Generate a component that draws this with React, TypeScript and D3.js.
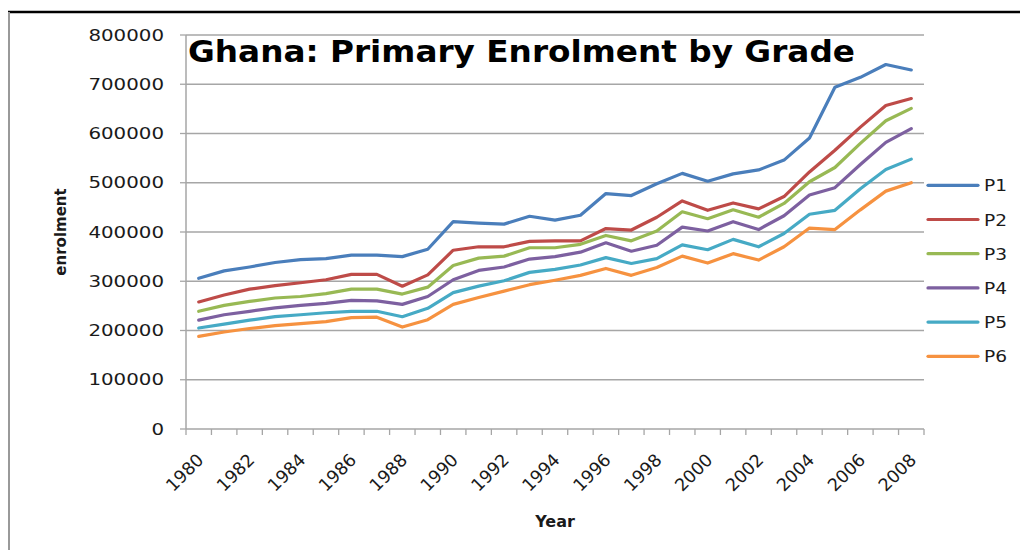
import React from "react";
import * as d3 from "d3";

const years: number[] = [1980,1981,1982,1983,1984,1985,1986,1987,1988,1989,1990,1991,1992,1993,1994,1995,1996,1997,1998,1999,2000,2001,2002,2003,2004,2005,2006,2007,2008];
const yearLabels: number[] = [1980,1982,1984,1986,1988,1990,1992,1994,1996,1998,2000,2002,2004,2006,2008];
const yTicks: number[] = [0,100000,200000,300000,400000,500000,600000,700000,800000];

const P1: number[] = [306000,321000,329000,338000,344000,346000,353000,353000,350000,365000,421000,418000,416000,432000,424000,434000,478000,474000,498000,519000,503000,518000,526000,546000,591000,694000,714000,740000,729000];
const P2: number[] = [258000,272000,284000,291000,297000,303000,314000,314000,290000,313000,363000,370000,370000,381000,382000,382000,407000,404000,430000,463000,444000,459000,447000,472000,522000,566000,613000,657000,671000];
const P3: number[] = [239000,251000,259000,266000,269000,275000,284000,284000,274000,288000,332000,347000,351000,368000,368000,375000,393000,382000,402000,441000,427000,445000,430000,458000,502000,531000,580000,626000,651000];
const P4: number[] = [221000,232000,239000,246000,251000,255000,261000,260000,253000,269000,303000,322000,329000,345000,350000,359000,378000,361000,373000,410000,402000,421000,405000,433000,475000,490000,537000,582000,610000];
const P5: number[] = [205000,213000,221000,228000,232000,236000,239000,239000,228000,245000,277000,290000,301000,318000,324000,333000,348000,336000,346000,374000,364000,385000,370000,397000,436000,444000,488000,527000,548000];
const P6: number[] = [188000,197000,204000,210000,214000,218000,226000,227000,207000,222000,253000,267000,280000,293000,302000,312000,326000,312000,328000,351000,337000,356000,343000,370000,408000,405000,445000,483000,500000];

const seriesNames: string[] = ["P1","P2","P3","P4","P5","P6"];
const seriesValues: number[][] = [P1,P2,P3,P4,P5,P6];
const seriesColors: string[] = ["#4a7ebb","#be4b48","#98b954","#7d60a0","#46aac5","#f69240"];

const title = "Ghana: Primary Enrolment by Grade";
const xTitle = "Year";
const yTitle = "enrolment";

export default function App() {
  const W = 1020, H = 550;
  const left = 186, right = 924, top = 35, bottom = 429;
  const x = d3.scaleBand<number>().domain(years).range([left, right]).padding(0);
  const bw = x.bandwidth();
  const cx = (yr: number) => (x(yr) as number) + bw / 2;
  const y = d3.scaleLinear().domain([0, 800000]).range([bottom, top]);
  const line = d3.line<number>().x((_, i) => cx(years[i])).y((v) => y(v));
  const font = "'DejaVu Sans', Verdana, sans-serif";
  const boundaries = d3.range(years.length + 1).map((i) => left + i * bw);

  return (
    <div style={{ position: "absolute", left: 0, top: 0 }}>
      <svg width={W} height={H} style={{ display: "block", background: "#fff" }} fontFamily={font}>
        <rect x={0} y={0} width={W} height={H} fill="#fff" />
        {/* frame */}
        <line x1={8} x2={W} y1={12} y2={12} stroke="#000" strokeWidth={2.5} />
        <line x1={9} x2={9} y1={12} y2={H} stroke="#999" strokeWidth={2} />
        {/* gridlines */}
        {yTicks.map((t) => (
          <g key={t}>
            {t > 0 && (
              <line x1={left} x2={right} y1={y(t)} y2={y(t)} stroke="#a6a6a6" strokeWidth={1.3} />
            )}
            <line x1={left - 6} x2={left} y1={y(t)} y2={y(t)} stroke="#a6a6a6" strokeWidth={1.3} />
            <text
              x={164}
              y={y(t) + 5.5}
              textAnchor="end"
              fontSize={15.5}
              fill="#1a1a1a"
              textLength={12.6 * String(t).length}
              lengthAdjust="spacingAndGlyphs"
            >
              {t}
            </text>
          </g>
        ))}
        {/* axes */}
        <line x1={left} x2={left} y1={top} y2={bottom} stroke="#a6a6a6" strokeWidth={1.5} />
        <line x1={left} x2={right} y1={bottom} y2={bottom} stroke="#a6a6a6" strokeWidth={1.5} />
        {boundaries.map((b, i) => (
          <line key={i} x1={b} x2={b} y1={bottom} y2={bottom + 6} stroke="#a6a6a6" strokeWidth={1.3} />
        ))}
        {yearLabels.map((yr) => (
          <text
            key={yr}
            transform={`translate(${cx(yr) + 6},${bottom + 32}) rotate(-45)`}
            textAnchor="end"
            fontSize={17.5}
            fill="#1a1a1a"
          >
            {yr}
          </text>
        ))}
        {/* series */}
        {seriesValues.map((vals, si) => (
          <path
            key={seriesNames[si]}
            d={line(vals) as string}
            fill="none"
            stroke={seriesColors[si]}
            strokeWidth={3.2}
            strokeLinejoin="round"
            strokeLinecap="round"
          />
        ))}
        {/* title */}
        <text x={188} y={62} fontSize={30} fontWeight="bold" fill="#000" textLength={667} lengthAdjust="spacingAndGlyphs">
          {title}
        </text>
        {/* axis titles */}
        <text x={555} y={527} textAnchor="middle" fontSize={16} fontWeight="bold" fill="#1a1a1a">
          {xTitle}
        </text>
        <text transform={`translate(66,232) rotate(-90)`} textAnchor="middle" fontSize={15} fontWeight="bold" fill="#1a1a1a">
          {yTitle}
        </text>
        {/* legend */}
        {seriesNames.map((n, i) => {
          const ly = 185.3 + i * 34.2;
          return (
            <g key={n}>
              <line x1={928} x2={978} y1={ly} y2={ly} stroke={seriesColors[i]} strokeWidth={3.2} strokeLinecap="round" />
              <text x={984} y={ly + 6} fontSize={16.5} fill="#1a1a1a" textLength={23} lengthAdjust="spacingAndGlyphs">
                {n}
              </text>
            </g>
          );
        })}
      </svg>
    </div>
  );
}
